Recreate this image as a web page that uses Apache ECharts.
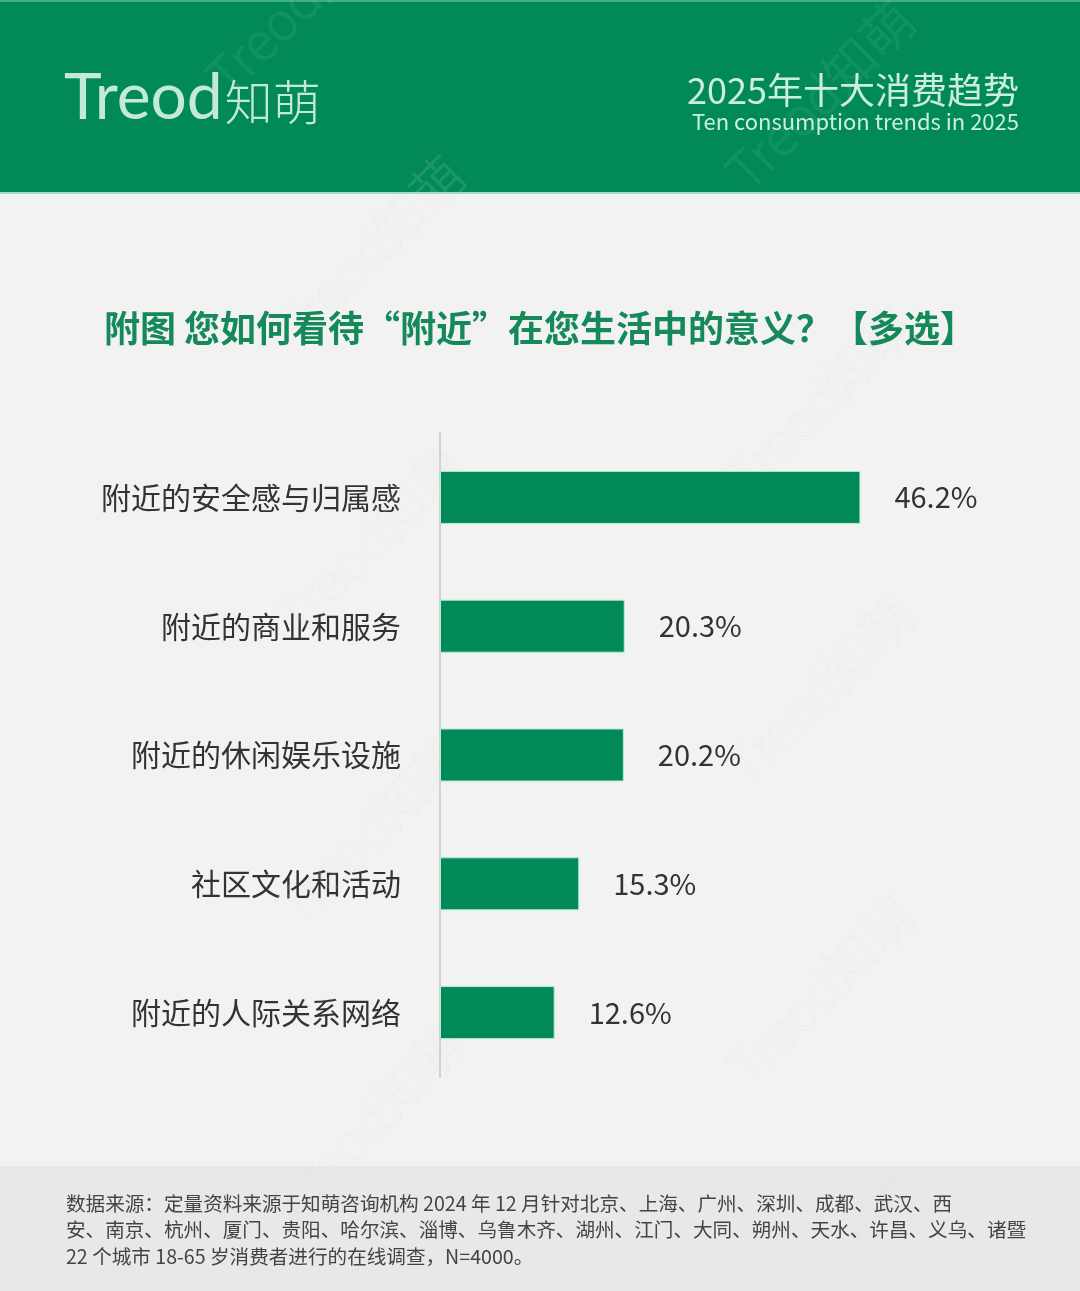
<!DOCTYPE html>
<html>
<head>
<meta charset="utf-8">
<script src="https://cdn.jsdelivr.net/npm/echarts@6/dist/echarts.min.js"></script>
<style>
  html, body { margin: 0; padding: 0; background: #f2f2f2; }
  #chart { width: 1080px; height: 1291px; }
</style>
</head>
<body>
<div id="chart"></div>
<script>
// ---- data ----
const categories = ['附近的安全感与归属感', '附近的商业和服务', '附近的休闲娱乐设施', '社区文化和活动', '附近的人际关系网络'];
const values = [46.2, 20.3, 20.2, 15.3, 12.6];
const chartTitle = '附图 您如何看待“附近”在您生活中的意义？【多选】';
const headerTitle = '2025年十大消费趋势';
const headerSubtitle = 'Ten consumption trends in 2025';
const sourceLines = [
  '数据来源：定量资料来源于知萌咨询机构 2024 年 12 月针对北京、上海、广州、深圳、成都、武汉、西',
  '安、南京、杭州、厦门、贵阳、哈尔滨、淄博、乌鲁木齐、湖州、江门、大同、朔州、天水、许昌、义乌、诸暨',
  '22 个城市 18-65 岁消费者进行的在线调查，N=4000。'
];
const watermarkSpots = [[370, 250], [820, 95], [820, 400], [370, 540], [820, 690], [370, 830], [820, 990], [370, 1120], [820, 1265], [300, 0]];

const FONT = '"Noto Sans CJK SC", "Noto Sans", sans-serif';
const GREEN = '#018a58';

const chart = echarts.init(document.getElementById('chart'), null, { renderer: 'canvas' });

const graphics = [
  // header band
  { type: 'rect', shape: { x: 0, y: 0, width: 1080, height: 194 }, style: { fill: GREEN }, z: 0, silent: true },
  { type: 'rect', shape: { x: 0, y: 0, width: 1080, height: 2 }, style: { fill: '#3fae80' }, z: 1, silent: true },
  { type: 'rect', shape: { x: 0, y: 192, width: 1080, height: 2 }, style: { fill: '#9fdcc0' }, z: 1, silent: true },
  // logo
  { type: 'text', left: 64, top: 66, z: 2, silent: true,
    style: { text: '{a|Treod}{b|知萌}', rich: {
      a: { fontSize: 64, fontFamily: 'Lato, "Noto Sans", sans-serif', fontWeight: 400, fill: '#c4ead7', verticalAlign: 'bottom' },
      b: { fontSize: 48, fontFamily: FONT, fontWeight: 300, fill: '#c4ead7', verticalAlign: 'bottom', padding: [0, 0, 4, 2] }
    } } },
  // header right texts
  { type: 'text', x: 1019, y: 90, z: 2, silent: true,
    style: { text: headerTitle, fontSize: 36, fontFamily: FONT, fill: '#cdeedd', align: 'right', verticalAlign: 'middle' } },
  { type: 'text', x: 1019, y: 122, z: 2, silent: true,
    style: { text: headerSubtitle, fontSize: 22, fontFamily: FONT, fill: '#cdeedd', align: 'right', verticalAlign: 'middle' } },
  // chart title
  { type: 'text', x: 540, y: 328, z: 2, silent: true,
    style: { text: chartTitle, fontSize: 36, fontWeight: 'bold', fontFamily: FONT, fill: '#15895a', align: 'center', verticalAlign: 'middle' } },
  // footer band
  { type: 'rect', shape: { x: 0, y: 1166, width: 1080, height: 125 }, style: { fill: '#e8e8e8' }, z: 0, silent: true },
  { type: 'text', x: 66, y: 1230, z: 2, silent: true,
    style: { text: sourceLines.join('\n'), fontSize: 19.6, lineHeight: 26.5, fontFamily: FONT, fill: '#444444', align: 'left', verticalAlign: 'middle' } }
];

// faint watermarks
watermarkSpots.forEach(function (p) {
  const inHeader = p[1] < 194;
  graphics.push({
    type: 'text', x: p[0], y: p[1], rotation: Math.PI / 4, z: 1, silent: true,
    style: { text: 'Treod知萌', fontSize: 52, fontFamily: FONT, fontWeight: 300,
      fill: inHeader ? 'rgba(255,255,255,0.06)' : 'rgba(255,255,255,0.10)',
      stroke: inHeader ? 'rgba(255,255,255,0.05)' : 'rgba(190,190,190,0.10)', lineWidth: 1,
      align: 'center', verticalAlign: 'middle' }
  });
});

const option = {
  backgroundColor: '#f2f2f2',
  animation: false,
  textStyle: { fontFamily: FONT },
  graphic: graphics,
  grid: { left: 440, top: 433, width: 455, height: 644, containLabel: false },
  xAxis: {
    type: 'value', min: 0, max: 50,
    show: false, splitLine: { show: false }
  },
  yAxis: {
    type: 'category', data: categories, inverse: true,
    axisLine: { show: true, lineStyle: { color: '#d2d2d2', width: 2 } },
    axisTick: { show: false },
    axisLabel: { fontSize: 30, color: '#333333', margin: 39, fontFamily: FONT }
  },
  series: [{
    type: 'bar',
    data: values,
    barWidth: 53,
    itemStyle: { color: GREEN, borderColor: '#b3ead0', borderWidth: 1 },
    label: {
      show: true, position: 'right', distance: 34,
      formatter: function (p) { return p.value.toFixed(1) + '%'; },
      fontSize: 29, color: '#333333', fontFamily: FONT
    },
    z: 3
  }]
};

chart.setOption(option);
</script>
</body>
</html>
